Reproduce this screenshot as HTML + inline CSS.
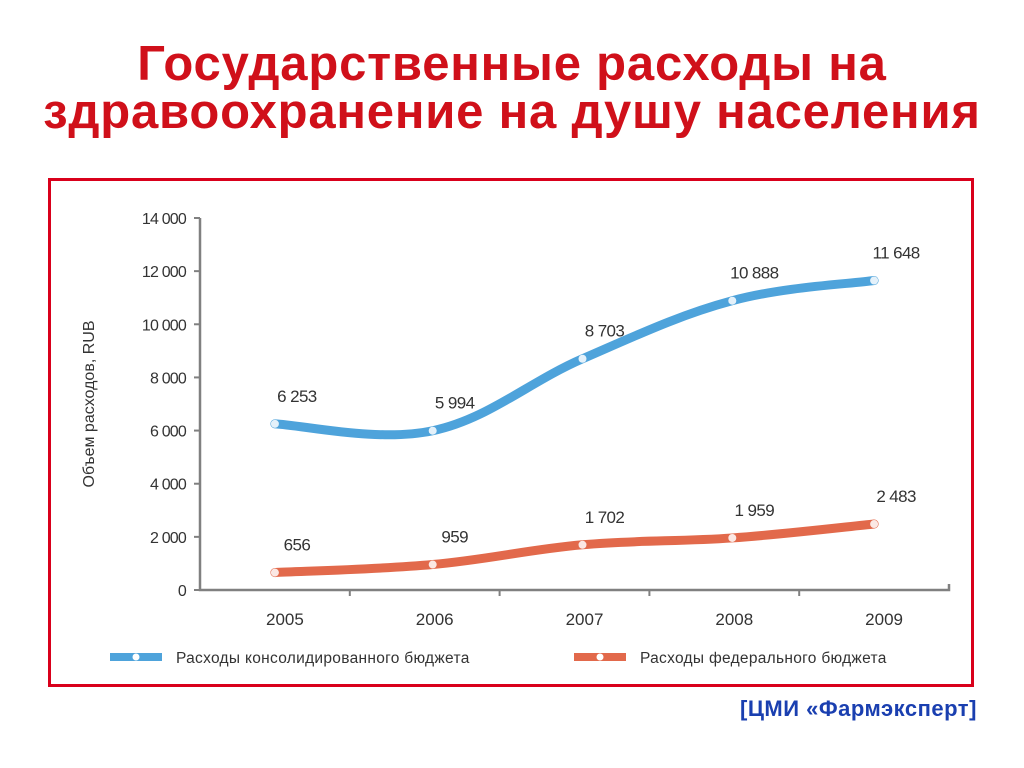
<!DOCTYPE html>
<html><head><meta charset="utf-8"><style>
body{margin:0;width:1024px;height:768px;background:#fff;overflow:hidden;font-family:"Liberation Sans",sans-serif;position:relative}
.title{position:absolute;top:40px;left:0;width:1024px;text-align:center;color:#d0101a;font-weight:bold;font-size:49px;line-height:48px;letter-spacing:0.8px;white-space:nowrap}
.frame{position:absolute;left:48px;top:178px;width:920px;height:503px;border:3px solid #d9001b}
.src{position:absolute;left:740px;top:696px;color:#1a3fb0;font-weight:bold;font-size:22px;letter-spacing:0.5px}
</style></head><body>
<div class="title">Государственные расходы на<br>здравоохранение на душу населения</div>
<div class="frame"></div>
<svg id="chart" width="1024" height="768" style="position:absolute;left:0;top:0"></svg>
<div class="src">[ЦМИ «Фармэксперт]</div>
<script>
const categories=["2005","2006","2007","2008","2009"];
const consolidated=[6253,5994,8703,10888,11648];
const federal=[656,959,1702,1959,2483];
const consolidatedLabels=["6 253","5 994","8 703","10 888","11 648"];
const federalLabels=["656","959","1 702","1 959","2 483"];
const yTicks=[0,2000,4000,6000,8000,10000,12000,14000];
const yTickLabels=["0","2 000","4 000","6 000","8 000","10 000","12 000","14 000"];
const NS="http://www.w3.org/2000/svg";
const svg=document.getElementById('chart');
const x0=200,x1=949,yB=590,yT=218,yMax=14000;
const y=v=>yB-(v/yMax)*(yB-yT);
const band=(x1-x0)/categories.length;
const x=i=>x0+band*(i+0.5);
function el(t,a,p){const e=document.createElementNS(NS,t);for(const k in a)e.setAttribute(k,a[k]);(p||svg).appendChild(e);return e;}
const ax=el('path',{d:`M${x0},${yT} V${yB} H${x1} v-6`,stroke:'#808080','stroke-width':2.5,fill:'none'});


yTicks.forEach((v,i)=>{
 const t=el('line',{x1:x0-6,x2:x0,y1:y(v),y2:y(v),stroke:'#808080','stroke-width':2});
 
 
 const l=el('text',{x:x0-14,y:y(v)+6,'text-anchor':'end','font-size':16,fill:'#333','letter-spacing':'-0.8'});
 l.textContent=yTickLabels[i];
 
 
});
categories.forEach((c,i)=>{
 if(i>0){const t=el('line',{x1:x0+band*i,x2:x0+band*i,y1:yB,y2:yB+6,stroke:'#808080','stroke-width':2});
 
 }
 const l=el('text',{x:x(i)+10,y:yB+35,'text-anchor':'middle','font-size':17,fill:'#333'});
 l.textContent=c;
 
 
});
const yt=el('text',{transform:'translate(94,404) rotate(-90)','text-anchor':'middle','font-size':16,fill:'#333'});
yt.textContent='Объем расходов, RUB';


function smooth(pts){let d=`M${pts[0][0]},${pts[0][1]}`;for(let i=0;i<pts.length-1;i++){const p0=pts[i-1]||pts[i],p1=pts[i],p2=pts[i+1],p3=pts[i+2]||p2;const t=0.18;d+=` C${p1[0]+(p2[0]-p0[0])*t},${p1[1]+(p2[1]-p0[1])*t} ${p2[0]-(p3[0]-p1[0])*t},${p2[1]-(p3[1]-p1[1])*t} ${p2[0]},${p2[1]}`;}return d;}
function series(vals,labels,color,name){
 const pts=vals.map((v,i)=>[x(i)+(i===0||i===4?0:8),y(v)]);
 const p=el('path',{d:smooth(pts),stroke:color,'stroke-width':9,fill:'none','stroke-linecap':'round'});
 
 
 pts.forEach((pt,i)=>{
  const c=el('circle',{cx:pt[0],cy:pt[1],r:4,fill:'#fff',opacity:0.85});
  
  
  const l=el('text',{x:pt[0]+22,y:pt[1]-22,'text-anchor':'middle','font-size':17,fill:'#333','letter-spacing':'-0.6'});
  l.textContent=labels[i];
  
  
 });
}
series(consolidated,consolidatedLabels,'#4ea3db','consolidated');
series(federal,federalLabels,'#e2694b','federal');
function legend(lx,color,text,name){
 const r=el('line',{x1:lx,x2:lx+52,y1:657,y2:657,stroke:color,'stroke-width':8});
 
 
 el('circle',{cx:lx+26,cy:657,r:3.5,fill:'#fff'});
 const t=el('text',{x:lx+66,y:663,'font-size':15.5,fill:'#333','letter-spacing':'0.3'});
 t.textContent=text;
 
 
}
legend(110,'#4ea3db','Расходы консолидированного бюджета','consolidated');
legend(574,'#e2694b','Расходы федерального бюджета','federal');
</script>
</body></html>
